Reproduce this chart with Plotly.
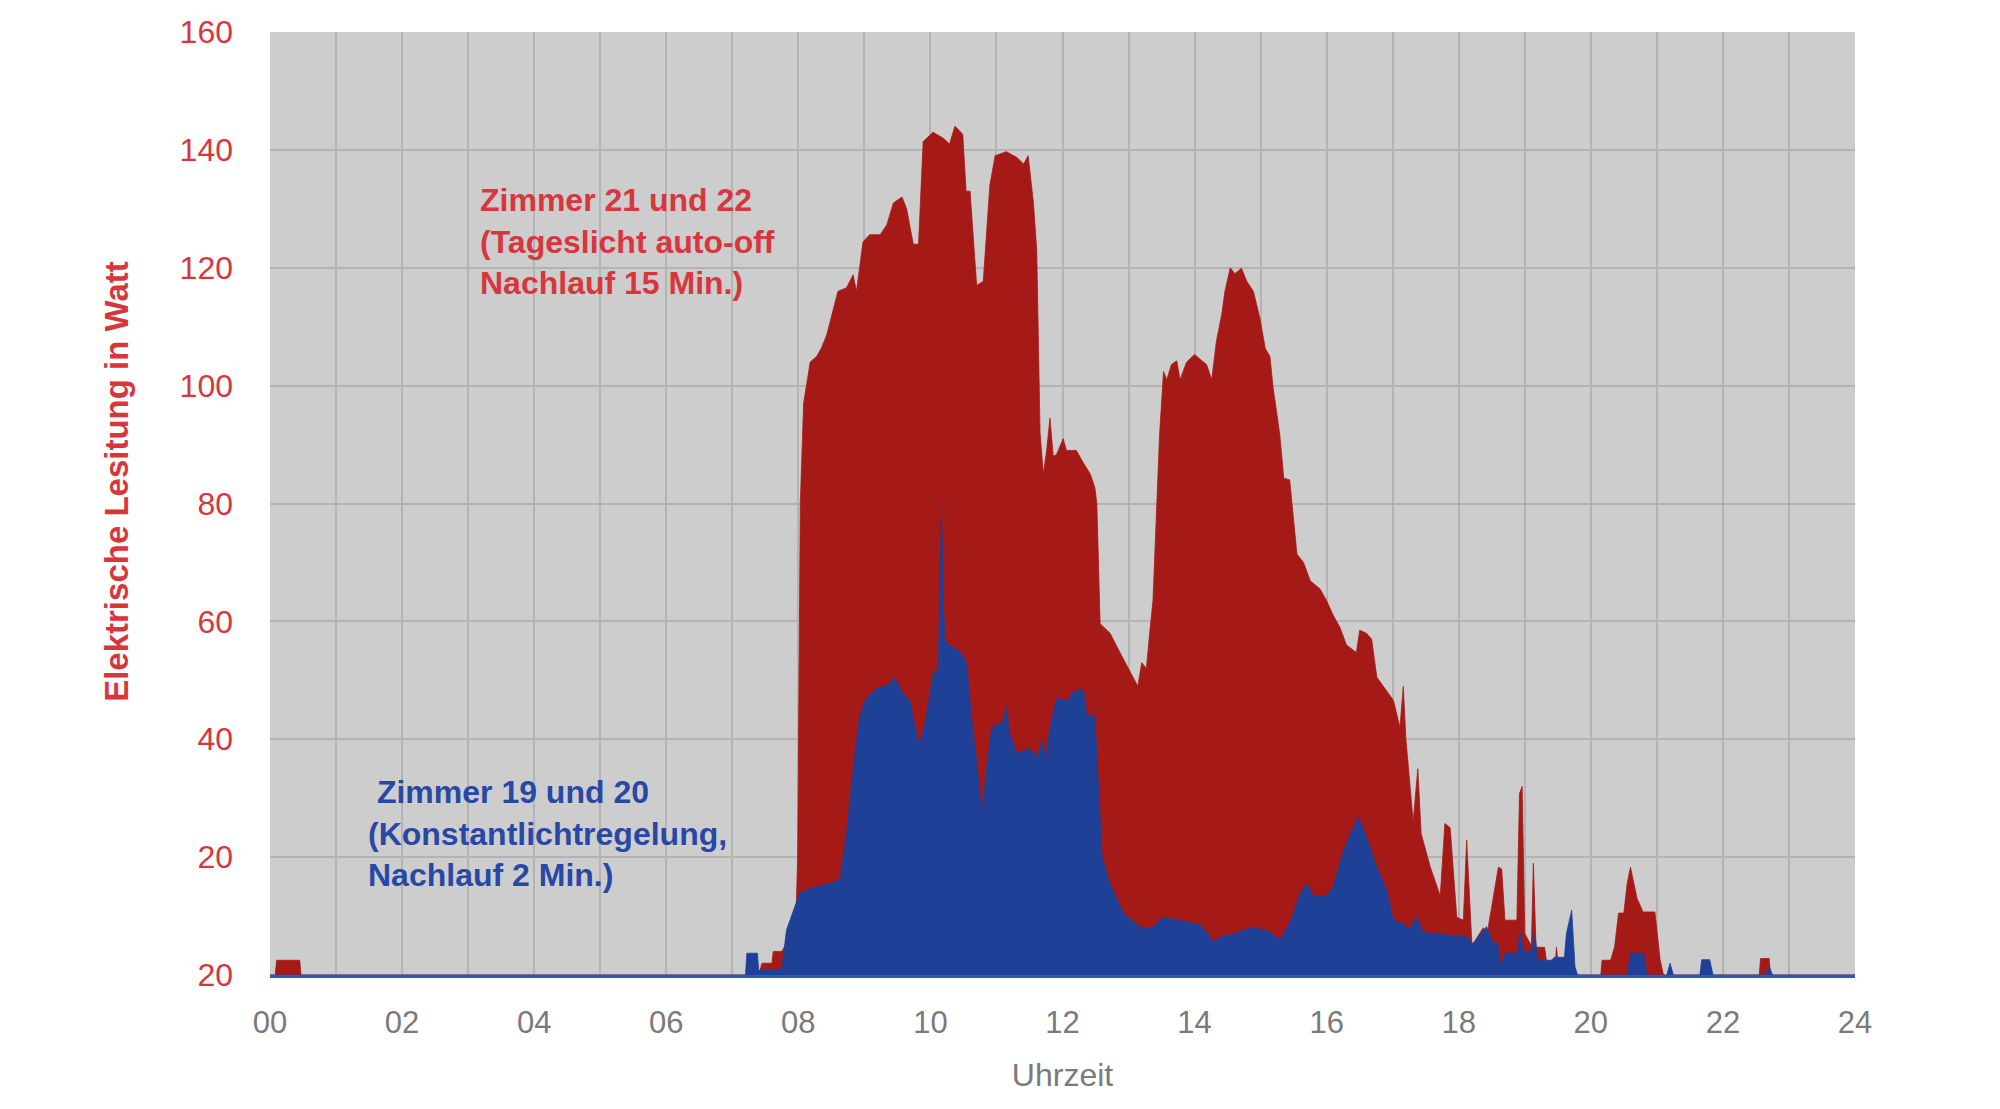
import plotly.graph_objects as go

# ---------------- data (hours of day, watts) ----------------
blue_name = "Zimmer 19 und 20"
blue_t = [0, 7.2, 7.22, 7.38, 7.4, 7.75, 7.82, 7.9, 7.97, 8.02, 8.15, 8.28, 8.45, 8.63, 8.73, 8.83,
          8.93, 9.03, 9.19, 9.3, 9.39, 9.46, 9.52, 9.59, 9.69, 9.79, 9.84, 9.94, 10.04, 10.12, 10.15,
          10.17, 10.19, 10.22, 10.34, 10.44, 10.55, 10.62, 10.7, 10.78, 10.85, 10.93, 11.1, 11.15,
          11.2, 11.31, 11.41, 11.51, 11.61, 11.71, 11.74, 11.78, 11.85, 11.91, 12.06, 12.19, 12.32,
          12.37, 12.49, 12.55, 12.6, 12.72, 12.92, 13.17, 13.34, 13.52, 13.77, 14.08, 14.2, 14.28,
          14.4, 14.59, 14.84, 15.09, 15.29, 15.45, 15.6, 15.7, 15.8, 16.0, 16.1, 16.25, 16.4, 16.48,
          16.6, 16.76, 16.91, 17.01, 17.11, 17.26, 17.36, 17.46, 17.62, 18.12, 18.22, 18.3, 18.42,
          18.5, 18.6, 18.63, 18.7, 18.88, 18.93, 18.98, 19.1, 19.15, 19.2, 19.4, 19.45, 19.6, 19.63,
          19.71, 19.76, 19.8, 20.55, 20.6, 20.8, 20.85, 21.15, 21.2, 21.25, 21.65, 21.68, 21.8,
          21.85, 22.65, 22.7, 22.75, 24]
blue_w = [0, 0, 3.7, 3.7, 0.8, 1, 7.6, 10, 12.2, 13.9, 14.5, 15, 15.5, 16.1, 24, 35,
          44, 47, 48.6, 49, 49.6, 50.5, 49, 47.7, 46.5, 41, 39, 44, 51, 52, 70,
          80, 65, 56.7, 55.5, 55, 53, 43.7, 36.4, 27.4, 35, 42, 43, 45.7,
          41, 37.6, 38, 38.4, 37, 40, 35, 40, 44, 47, 46.5, 48.3, 48.3,
          44, 44, 30, 20, 15.5, 10.5, 8.2, 7.8, 9.8, 9.3, 8.5, 7, 5.6,
          6.5, 7, 8, 7.6, 6, 9, 13.9, 15.5, 13.4, 13.4, 15, 21, 25, 26.8,
          23.5, 18.3, 14.4, 9.3, 9, 7.8, 9.9, 7.3, 7, 6.5, 5.3, 6.5, 8.2,
          6, 5, 1.4, 3.7, 3.7, 7.3, 4, 4, 7, 2.5, 2.5, 3, 3, 7,
          11, 1.4, 0, 0, 3.7, 3.7, 0, 0, 2, 0, 0, 2.6, 2.6,
          0, 0, 1.5, 0, 0]

red_name = "Zimmer 21 und 22"
red_t = [0, 0.08, 0.1, 0.45, 0.47, 7.4, 7.45, 7.6, 7.62, 7.75, 7.8, 7.97, 7.99, 8.03, 8.08, 8.18,
         8.28, 8.35, 8.43, 8.53, 8.6, 8.73, 8.83, 8.88, 8.98, 9.08, 9.24, 9.34, 9.44, 9.57, 9.64,
         9.74, 9.82, 9.89, 10.04, 10.19, 10.29, 10.37, 10.42, 10.49, 10.54, 10.6, 10.7, 10.8, 10.9,
         10.98, 11.15, 11.31, 11.41, 11.48, 11.56, 11.61, 11.66, 11.71, 11.76, 11.81, 11.86, 11.91,
         12.01, 12.06, 12.21, 12.31, 12.42, 12.49, 12.52, 12.57, 12.72, 12.87, 13.07, 13.14, 13.2,
         13.27, 13.32, 13.37, 13.47, 13.53, 13.58, 13.65, 13.73, 13.78, 13.88, 14.0, 14.08, 14.18,
         14.26, 14.33, 14.41, 14.46, 14.54, 14.61, 14.71, 14.79, 14.89, 14.99, 15.07, 15.14, 15.19,
         15.29, 15.35, 15.44, 15.55, 15.65, 15.75, 15.9, 16.0, 16.1, 16.2, 16.3, 16.45, 16.5, 16.6,
         16.68, 16.76, 16.86, 17.01, 17.11, 17.16, 17.2, 17.31, 17.38, 17.43, 17.57, 17.72, 17.79,
         17.87, 17.97, 18.07, 18.12, 18.2, 18.37, 18.43, 18.6, 18.65, 18.7, 18.88, 18.92, 18.96,
         19.0, 19.1, 19.13, 19.17, 19.3, 19.35, 19.45, 19.48, 19.52, 20.15, 20.17, 20.3, 20.36,
         20.42, 20.5, 20.55, 20.6, 20.7, 20.79, 20.97, 21.05, 21.1, 22.55, 22.57, 22.7, 22.72, 24]
red_w = [0, 0, 2.5, 2.5, 0, 0, 2, 2, 4, 4, 5, 12, 20, 80, 97, 104,
         105, 106.4, 108.6, 113, 116, 116.6, 118.8, 116, 124.4, 125.6, 125.6, 127.3, 131, 132, 130,
         124, 124, 141.4, 143, 142, 141, 144, 143.5, 142.6, 133, 133, 117, 117.7, 134,
         139, 139.7, 138.7, 137.6, 139, 131, 123, 92, 85, 89, 94.5, 88, 88.3,
         91, 89, 89, 87, 85, 82.7, 80, 59.6, 58, 54.7, 50.5, 49, 53,
         52, 58, 63.5, 91.7, 102.4, 101, 103.6, 104.2, 101, 104, 105.3, 104.5, 103.6,
         101, 107.5, 112, 116, 120, 119, 119.9, 117.7, 116, 111.4, 106.3, 105, 99.6,
         91.7, 84.3, 84, 71.4, 70, 66.9, 65.5, 63.5, 61, 59, 56, 54.7, 58.5, 58,
         57, 50.5, 49, 46.6, 42, 49, 40, 26, 35, 24, 18.3, 13.4, 25.7,
         25, 9.8, 9.3, 22.9, 5, 8, 7, 18.3, 18, 9.3, 9.3, 30.8, 32,
         7, 5, 19, 4.7, 4.7, 0.5, 0.5, 4.7, 0, 0, 2.5, 2.5, 4.8,
         10.5, 10.5, 15.5, 18.3, 13, 10.7, 10.7, 2.5, 0, 0, 2.8, 2.8, 0, 0]

x_tickvals = list(range(0, 25, 2))
x_ticktext = ["00", "02", "04", "06", "08", "10", "12", "14", "16", "18", "20", "22", "24"]
y_tickvals = [0, 20, 40, 60, 80, 100, 120, 140, 160]
y_ticktext = ["20", "20", "40", "60", "80", "100", "120", "140", "160"]

RED_FILL = "#a51a17"
BLUE_FILL = "#1e4096"
RED_TEXT = "#d8363d"
BLUE_TEXT = "#2848a6"
FONT = "Liberation Sans, Arial, sans-serif"

fig = go.Figure()
fig.add_trace(go.Scatter(x=red_t, y=red_w, name=red_name, mode="lines",
                         line=dict(color=RED_FILL, width=0.8), fill="tozeroy",
                         fillcolor=RED_FILL))
fig.add_trace(go.Scatter(x=blue_t, y=blue_w, name=blue_name, mode="lines",
                         line=dict(color=BLUE_FILL, width=0.8), fill="tozeroy",
                         fillcolor=BLUE_FILL))

fig.add_annotation(x=3.15, y=124.4, xref="x", yref="y", xanchor="left", yanchor="middle",
                   align="left", showarrow=False,
                   text="<b>Zimmer 21 und 22<br>(Tageslicht auto-off<br>Nachlauf 15 Min.)</b>",
                   font=dict(family=FONT, size=32, color=RED_TEXT))
fig.add_annotation(x=1.45, y=24.0, xref="x", yref="y", xanchor="left", yanchor="middle",
                   align="left", showarrow=False,
                   text="<b>\u00a0Zimmer 19 und 20<br>(Konstantlichtregelung,<br>Nachlauf 2 Min.)</b>",
                   font=dict(family=FONT, size=32, color=BLUE_TEXT))
# y-axis title
fig.add_annotation(x=-0.0965, y=0.523, xref="paper", yref="paper", xanchor="center",
                   yanchor="middle", textangle=-90, showarrow=False,
                   text="<b>Elektrische Lesitung in Watt</b>",
                   font=dict(family=FONT, size=33, color=RED_TEXT))

fig.update_layout(
    width=2000, height=1109,
    margin=dict(l=270, r=145, t=32, b=134),
    paper_bgcolor="white",
    plot_bgcolor="#cdcdcd",
    showlegend=False,
    font=dict(family=FONT),
    xaxis=dict(
        range=[0, 24], tickvals=x_tickvals, ticktext=x_ticktext,
        showgrid=True, gridcolor="#b3b3b3", gridwidth=1.5,
        minor=dict(dtick=1, showgrid=True, gridcolor="#b3b3b3", gridwidth=1.5),
        zeroline=False, showline=True, linecolor="#3558b8", linewidth=3,
        ticks="", ticklabelstandoff=18,
        tickfont=dict(size=31, color="#7a7a7a"),
        title=dict(text="Uhrzeit", font=dict(size=32, color="#7a7a7a"), standoff=25),
    ),
    yaxis=dict(
        range=[0, 160], tickvals=y_tickvals, ticktext=y_ticktext,
        showgrid=True, gridcolor="#b3b3b3", gridwidth=1.5,
        zeroline=False, showline=False, ticks="", ticklabelstandoff=36,
        tickfont=dict(size=32, color=RED_TEXT),
    ),
)

fig.write_html("out.html")
